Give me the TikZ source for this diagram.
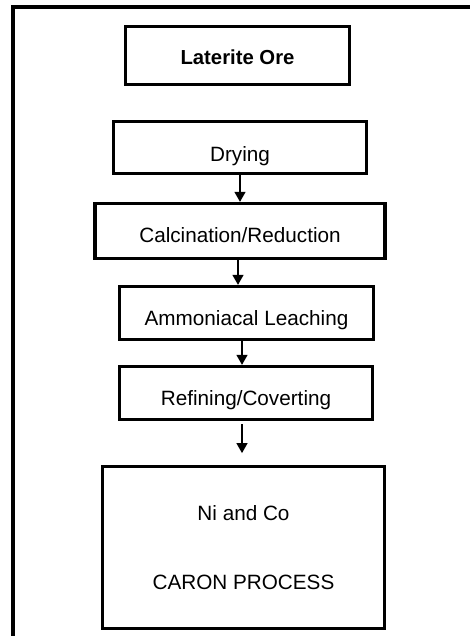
\documentclass[tikz,border=0pt]{standalone}
\usepackage{fontspec}
\setmainfont{Liberation Sans}
\usetikzlibrary{arrows.meta}
\begin{document}
\begin{tikzpicture}[x=1pt,y=-1pt,
  boxbase/.style={draw, line width=3.3pt, inner sep=0pt,
    font=\fontsize{20.7}{24.8}\selectfont},
  stage/.style={boxbase, text depth=0pt},
  flow/.style={line width=1.2pt, -{Triangle[length=10pt,width=11pt]}}]
  \useasboundingbox (0,0) rectangle (469,636);
  % open frame: only the left and top sides fall inside the page
  \draw[line width=4pt] (13,640) -- (13,7) -- (475,7);

  \node[stage, font=\fontsize{20.3}{24.4}\selectfont\bfseries,
        minimum width=224, minimum height=58, text height=17.6pt]
        (ore) at (237.5,55.5) {Laterite Ore};
  \node[stage, minimum width=253, minimum height=52, text height=28.4pt]
        (dry) at (240,147.5) {Drying};
  \node[stage, minimum width=290, minimum height=55, text height=23.4pt]
        (calc) at (240,231) {Calcination/Reduction};
  \node[stage, minimum width=254, minimum height=53, text height=24pt]
        (leach) at (246.5,313) {Ammoniacal Leaching};
  \node[stage, minimum width=253, minimum height=53, text height=24pt]
        (refine) at (246,393) {Refining/Coverting};
  \node[boxbase, line width=2.8pt, minimum width=282, minimum height=162,
        align=center]
        (caron) at (243.5,547.5) {Ni and Co\\[44.9pt]CARON PROCESS};

  \draw[flow] (dry.south) -- (dry.south |- calc.north);
  \draw[flow] ([xshift=-2pt]calc.south) -- ([xshift=-2pt]calc.south |- leach.north);
  \draw[flow] ([xshift=-4.5pt]leach.south) -- ([xshift=-4.5pt]leach.south |- refine.north);
  \draw[flow, shorten <=3pt, shorten >=12pt]
        ([xshift=-4pt]refine.south) -- ([xshift=-4pt]refine.south |- caron.north);
\end{tikzpicture}
\end{document}
